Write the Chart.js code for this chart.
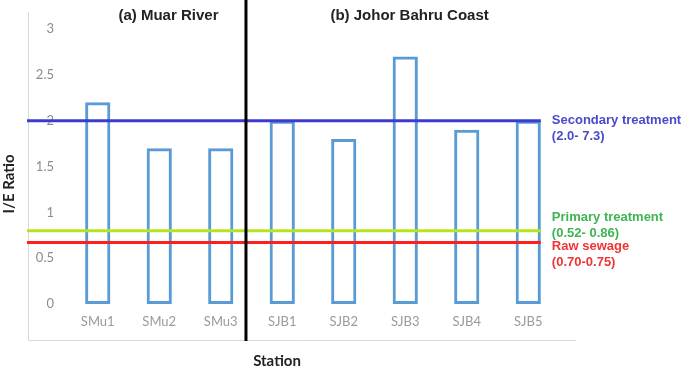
<!DOCTYPE html>
<html>
<head>
<meta charset="utf-8">
<script src="https://cdn.jsdelivr.net/npm/chart.js@4.4.1/dist/chart.umd.min.js"></script>
<style>
  html, body { margin: 0; padding: 0; background: #fff; }
  #wrap { width: 685px; height: 368px; position: relative; }
</style>
</head>
<body>
<div id="wrap"><canvas id="ieChart"></canvas></div>
<script>
// stations and I/E ratio per station
const stations = ['SMu1', 'SMu2', 'SMu3', 'SJB1', 'SJB2', 'SJB3', 'SJB4', 'SJB5'];
const ieRatio = [2.2, 1.7, 1.7, 2.0, 1.8, 2.7, 1.9, 2.0];
const yTicks = [0, 0.5, 1, 1.5, 2, 2.5, 3];

// the two sampling areas (index where the divider sits, and where each title is centred)
const groupTitles = ['(a) Muar River', '(b) Johor Bahru Coast'];
const groupCentres = [1.15, 5.07];
const dividerIndex = 2.41;

// treatment reference levels
const refNames = ['Secondary treatment', 'Primary treatment', 'Raw sewage'];
const refRanges = ['(2.0- 7.3)', '(0.52- 0.86)', '(0.70-0.75)'];
const refLevels = [2.0, 0.8, 0.67];

// styles
const refLineColors = ['#3b3bd0', '#b5e61d', '#ff1f1f'];
const refTextColors = ['#4a4acb', '#3db552', '#f03535'];
const refTextShift = [0, -13, 4];

const overlay = {
  id: 'overlay',
  beforeDraw(chart) {
    const ctx = chart.ctx;
    const left = chart.options.layout.padding.left;
    ctx.save();
    ctx.strokeStyle = '#d9d9d9';
    ctx.lineWidth = 1;
    ctx.beginPath();
    ctx.moveTo(left + 0.5, 12);
    ctx.lineTo(left + 0.5, 340.5);
    ctx.lineTo(576, 340.5);
    ctx.stroke();
    ctx.restore();
  },
  afterDatasetsDraw(chart) {
    const ctx = chart.ctx;
    const x = chart.scales.x;
    const y = chart.scales.y;
    const bars = chart.getDatasetMeta(0).data;
    const lastBar = bars[bars.length - 1];
    const lineEnd = lastBar.x + lastBar.width / 2;
    const left = chart.options.layout.padding.left;

    ctx.save();
    // reference lines
    refLevels.forEach((v, i) => {
      const py = y.getPixelForValue(v);
      ctx.strokeStyle = refLineColors[i];
      ctx.lineWidth = 3;
      ctx.beginPath();
      ctx.moveTo(left - 1, py);
      ctx.lineTo(lineEnd, py);
      ctx.stroke();
    });

    // labels to the right of the lines
    ctx.font = 'bold 13px "Liberation Sans", Arial, sans-serif';
    ctx.textAlign = 'left';
    ctx.textBaseline = 'middle';
    refLevels.forEach((v, i) => {
      const py = y.getPixelForValue(v) + refTextShift[i];
      ctx.fillStyle = refTextColors[i];
      ctx.fillText(refNames[i], lineEnd + 11, py);
      ctx.fillText(refRanges[i], lineEnd + 11, py + 16);
    });

    // group titles
    ctx.fillStyle = '#222';
    ctx.font = 'bold 15px "Liberation Sans", Arial, sans-serif';
    ctx.textAlign = 'center';
    groupTitles.forEach((t, i) => {
      ctx.fillText(t, x.getPixelForValue(groupCentres[i]), 16);
    });

    // axis titles
    ctx.font = 'bold 15px Lato, "Open Sans", sans-serif';
    ctx.fillText('Station', 277, 361);
    ctx.translate(9, 184);
    ctx.rotate(-Math.PI / 2);
    ctx.fillText('I/E Ratio', 0, 0);
    ctx.setTransform(1, 0, 0, 1, 0, 0);

    // divider between the two areas
    const dx = x.getPixelForValue(dividerIndex);
    ctx.strokeStyle = '#000';
    ctx.lineWidth = 3;
    ctx.beginPath();
    ctx.moveTo(dx, 0);
    ctx.lineTo(dx, 341);
    ctx.stroke();
    ctx.restore();
  }
};

new Chart(document.getElementById('ieChart'), {
  type: 'bar',
  data: {
    labels: stations,
    datasets: [{
      label: 'I/E Ratio',
      data: ieRatio,
      backgroundColor: 'rgba(255,255,255,0)',
      borderColor: '#5b9bd5',
      borderWidth: 3,
      borderSkipped: false,
      barPercentage: 0.41,
      categoryPercentage: 1.0
    }]
  },
  options: {
    responsive: true,
    maintainAspectRatio: false,
    animation: false,
    layout: { padding: { left: 28, right: 126, top: 29, bottom: 28 } },
    plugins: {
      legend: { display: false },
      tooltip: { enabled: false }
    },
    scales: {
      x: {
        grid: { display: false, drawTicks: false },
        border: { display: false },
        ticks: {
          color: '#9a9a9a',
          font: { family: 'Lato, "Open Sans", sans-serif', size: 13 },
          padding: 10,
          maxRotation: 0
        },
        afterFit(s) { s.height = 36; }
      },
      y: {
        min: 0,
        max: 3,
        grid: { display: false, drawTicks: false },
        border: { display: false },
        afterBuildTicks(s) { s.ticks = yTicks.map(v => ({ value: v })); },
        ticks: {
          color: '#8c8c8c',
          font: { family: 'Lato, "Open Sans", sans-serif', size: 13 },
          padding: 13,
          callback: v => String(v)
        },
        afterFit(s) { s.width = 39; }
      }
    }
  },
  plugins: [overlay]
});
</script>
</body>
</html>
